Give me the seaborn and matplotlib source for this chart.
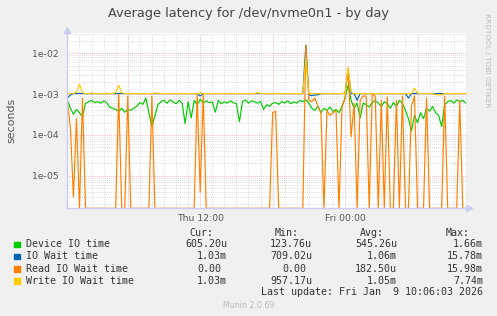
import numpy as np
import pandas as pd
import matplotlib
matplotlib.use("Agg")
import matplotlib.pyplot as plt
import matplotlib.dates as mdates
from matplotlib.ticker import FuncFormatter, LogLocator, NullFormatter
from matplotlib.patches import Rectangle
import seaborn as sns

# ------------------------------------------------------------------
# data (microseconds), one sample every 15 minutes from Thu 01:00
# ------------------------------------------------------------------
START = "2026-01-08 01:00"
STEP = "15min"

device_us = [
    700, 450, 320, 420, 350, 280,
    600, 650, 700, 620, 650, 600, 680, 620, 480, 450,
    420, 380, 450, 360, 420, 400, 450, 500, 620, 560,
    800, 350, 160, 300,
    550, 650, 700, 600, 720, 650, 580, 700,
    600, 190, 650, 260, 700, 550, 750, 600, 680, 620,
    640, 360, 700, 580, 650, 600, 680, 620, 580,
    210, 650, 720, 600, 680, 650, 600, 660,
    420,
    550, 500, 600, 620, 560, 650, 600, 680, 580, 650, 600, 700, 650,
    720, 600,
    450, 400, 500, 350, 450, 400, 480, 380, 420, 350,
    500, 800, 1660, 700, 450, 600, 260, 600,
    550, 480, 620, 700, 600, 500, 650, 580, 450, 620, 500, 700, 600,
    400, 250, 124, 300, 200, 350, 250,
    450, 380, 500, 350, 300,
    160,
    550, 650, 700, 600, 720, 650, 700, 605,
]

iowait_us = [
    800, 950, 1030, 1030, 1040, 1030, 1030, 1030, 1030, 1030,
    1030, 1030, 1030, 1030, 1030, 1030, 1030, 1040, 1030, 1030,
    1030, 1030, 1030, 1030, 1030, 1030, 1030, 1030, 1030, 1030,
    1030, 1030, 1030, 1030, 1030, 1030, 1030, 1030, 1030, 1030,
    1030, 1030, 1030, 1030, 900, 1030, 1030, 1030, 1030, 1030,
    1030, 1030, 1030, 1030, 1030, 1030, 1030, 1030, 1030, 1030,
    1030, 1030, 1030, 1030, 1030, 1030, 1030, 1030, 1030, 1030,
    1030, 1030, 1030, 1030, 1030, 1030, 1030, 1030, 1030, 15780,
    950, 920, 950, 960, 1030, 1030, 1030, 1030, 1030, 1030,
    1030, 1030, 1050, 4000, 1030, 1030, 709, 1030, 1030, 1030,
    1030, 1030, 1030, 1030, 1030, 1030, 1030, 1030, 1030, 1030,
    1030, 1030, 1030, 800, 1030, 1030, 1030, 1030, 1030, 1030,
    1030, 1030, 1030, 1030, 1030, 1030, 1030, 1030, 1030, 1030,
    1030, 1030, 1030,
]

read_us = [
    650, 150, 3, 250, 0, 800, 0, 0, 0, 0,
    0, 0, 0, 0, 0, 0, 0, 1000, 0, 0,
    900, 0, 0, 0, 0, 0, 0, 0, 900, 0,
    0, 0, 0, 0, 0, 0, 0, 0, 0, 0,
    0, 0, 0, 1000, 4, 1000, 0, 0, 0, 0,
    0, 0, 0, 0, 0, 0, 0, 0, 0, 0,
    0, 0, 0, 0, 0, 0, 0, 0, 350, 380,
    0, 0, 0, 0, 0, 0, 0, 0, 0, 15980,
    700, 650, 800, 500, 350, 0, 400, 300, 350, 400,
    0, 500, 800, 4300, 90, 600, 0, 700, 900, 900,
    0, 1000, 900, 0, 700, 0, 850, 0, 0, 700,
    0, 900, 0, 0, 500, 900, 0, 0, 0, 800,
    0, 0, 0, 0, 0, 900, 0, 0, 0, 0,
    700, 0, 0,
]

write_us = [
    1030, 1030, 1040, 1100, 1760, 1080, 1030, 1030, 1060, 1030,
    1030, 1030, 1030, 1050, 1030, 1030, 1100, 1660, 1080, 1030,
    1030, 1030, 1030, 1030, 1030, 1030, 1030, 1030, 1030, 1060,
    1050, 1030, 1030, 1030, 1030, 1030, 1030, 1030, 1030, 1030,
    1030, 1030, 1030, 1030, 1080, 1030, 1030, 1030, 1030, 1030,
    1030, 1030, 1040, 1030, 1030, 1030, 1030, 1030, 1030, 1030,
    1030, 1030, 1030, 1080, 1030, 1030, 1030, 1030, 1030, 1030,
    1030, 1030, 1030, 1030, 1030, 1030, 1030, 1030, 1030, 7740,
    1030, 1030, 1030, 1030, 1030, 1030, 1030, 1030, 1030, 1030,
    1030, 1030, 1050, 4600, 1100, 1030, 1030, 1030, 1030, 1030,
    1030, 1030, 1030, 1030, 1030, 1030, 1030, 1030, 1030, 1030,
    1030, 1030, 1030, 1030, 1030, 1400, 1060, 1030, 1030, 1030,
    1030, 1030, 960, 960, 960, 1030, 1030, 1030, 1030, 1030,
    1030, 1030, 1030,
]

SERIES = ["Device IO time", "IO Wait time", "Read IO Wait time", "Write IO Wait time"]
COLORS = ["#00CC00", "#0066B3", "#FF8000", "#FFCC00"]

CUR = ["605.20u", "1.03m", "0.00", "1.03m"]
MIN = ["123.76u", "709.02u", "0.00", "957.17u"]
AVG = ["545.26u", "1.06m", "182.50u", "1.05m"]
MAX = ["1.66m", "15.78m", "15.98m", "7.74m"]

Y_MIN, Y_MAX = 1.59e-6, 3.09e-2
X_MIN, X_MAX = pd.Timestamp("2026-01-08 00:58"), pd.Timestamp("2026-01-09 10:06")

W, H = 497, 316


def fx(px):
    return px / W


def fy(py):
    return 1 - py / H


def main():
    times = pd.date_range(START, periods=len(device_us), freq=STEP)
    frames = []
    for name, vals in zip(SERIES, [device_us, iowait_us, read_us, write_us]):
        frames.append(pd.DataFrame({"time": times, "seconds": np.array(vals) * 1e-6, "series": name}))
    df = pd.concat(frames, ignore_index=True)
    # rrdtool draws zero values on the bottom edge of a log graph
    df["plot"] = df["seconds"].clip(lower=Y_MIN)

    sns.set_style("white")
    plt.rcParams["font.family"] = ["DejaVu Sans"]

    fig = plt.figure(figsize=(W / 100, H / 100), dpi=100, facecolor="#F0F0F0")
    ax = fig.add_axes([fx(67), fy(208.3), 400 / W, (208.3 - 33.3) / H])
    ax.set_facecolor("white")

    sns.lineplot(data=df, x="time", y="plot", hue="series", hue_order=SERIES,
                 palette=dict(zip(SERIES, COLORS)), linewidth=0.85, estimator=None,
                 legend=False, ax=ax)

    ax.set_yscale("log")
    ax.set_ylim(Y_MIN, Y_MAX)
    ax.set_xlim(X_MIN, X_MAX)
    ax.set_xlabel("")
    ax.set_ylabel("")

    ax.yaxis.set_major_locator(LogLocator(base=10, numticks=10))
    ax.yaxis.set_minor_locator(LogLocator(base=10, subs=np.arange(2, 10), numticks=20))
    ax.yaxis.set_major_formatter(FuncFormatter(lambda v, p: f"{v:.0e}"))
    ax.yaxis.set_minor_formatter(NullFormatter())

    ax.xaxis.set_major_locator(mdates.HourLocator(byhour=[0, 6, 12, 18]))
    ax.xaxis.set_minor_locator(mdates.HourLocator())

    def xfmt(v, p):
        d = mdates.num2date(v)
        return d.strftime("%a %H:%M") if d.hour in (0, 12) else ""

    ax.xaxis.set_major_formatter(FuncFormatter(xfmt))

    ax.grid(True, which="minor", color="#D2D2D2", linestyle=(0, (1, 1.5)), linewidth=0.6)
    ax.grid(True, which="major", color="#F2A0A0", linestyle=(0, (1, 1.5)), linewidth=0.6)
    ax.set_axisbelow(True)

    ax.tick_params(axis="both", which="major", length=2, width=0.6, color="#AAAAAA",
                   labelsize=6.7, labelcolor="#555555", pad=4)
    ax.tick_params(axis="x", which="major", pad=2)
    ax.tick_params(axis="both", which="minor", length=1, width=0.5, color="#CCCCCC")

    for side in ["top", "right"]:
        ax.spines[side].set_visible(False)
    for side in ["left", "bottom"]:
        ax.spines[side].set_color("#CCCCF2")
        ax.spines[side].set_linewidth(1.0)

    # axis arrows
    ax.plot([1.005], [0], marker=">", ms=5, color="#CCCCF2", transform=ax.transAxes, clip_on=False)
    ax.plot([0], [1.02], marker="^", ms=5, color="#CCCCF2", transform=ax.transAxes, clip_on=False)

    # texts
    fig.text(fx(248), fy(13), "Average latency for /dev/nvme0n1 - by day", ha="center", va="center",
             fontsize=9.25, color="#444444")
    fig.text(fx(11), fy(120), "seconds", rotation=90, ha="center", va="center",
             fontsize=7.9, color="#555555")
    fig.text(fx(487), fy(60), "RRDTOOL / TOBI OETIKER", rotation=270, ha="center", va="center",
             fontsize=5.3, color="#BBBBBB")

    mono = dict(family="DejaVu Sans Mono", fontsize=7.2, color="#333333", va="center")
    char_w = 6.0
    for hdr, xr in zip(["Cur:", "Min:", "Avg:", "Max:"], [213, 299, 384, 470]):
        fig.text(fx(xr), fy(233), hdr, ha="right", **mono)

    rows_y = [244.3, 256.3, 268.7, 280.7]
    cols = [(CUR, 227), (MIN, 312), (AVG, 397), (MAX, 483)]
    for k, name in enumerate(SERIES):
        y = rows_y[k]
        fig.patches.append(Rectangle((fx(14), fy(y + 2.8)), 5.5 / W, 5.5 / H,
                                     transform=fig.transFigure, color=COLORS[k], figure=fig))
        fig.text(fx(26), fy(y), name, ha="left", **mono)
        for vals, xr in cols:
            s = vals[k]
            off = char_w if s[-1].isdigit() else 0
            fig.text(fx(xr - off), fy(y), s, ha="right", **mono)

    fig.text(fx(483), fy(292.3), "Last update: Fri Jan  9 10:06:03 2026", ha="right", **mono)
    fig.text(fx(249), fy(305), "Munin 2.0.69", ha="center", va="center", fontsize=5.7, color="#BBBBBB")

    fig.savefig("out.png", dpi=100, facecolor=fig.get_facecolor())
    plt.close(fig)


if __name__ == "__main__":
    main()
